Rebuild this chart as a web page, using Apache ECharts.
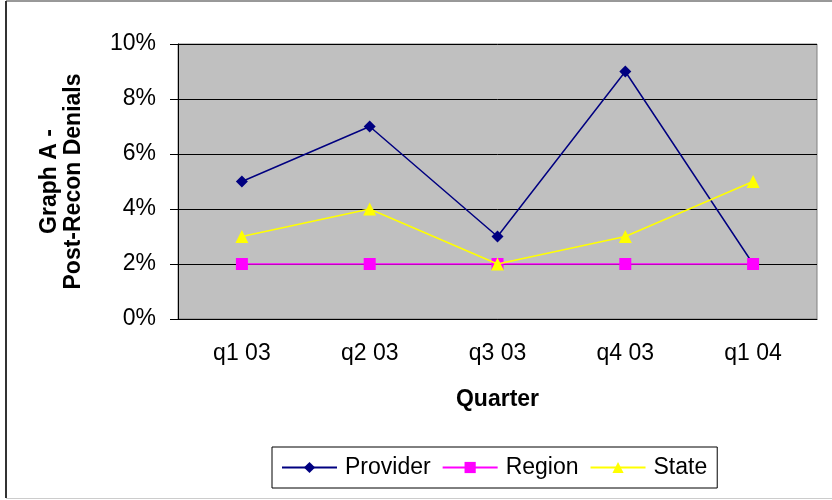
<!DOCTYPE html>
<html>
<head>
<meta charset="utf-8">
<script src="https://cdn.jsdelivr.net/npm/echarts@6/dist/echarts.min.js"></script>
<style>
    html, body { margin: 0; padding: 0; background: #fff; }
    #chart { width: 832px; height: 500px; }
</style>
</head>
<body>
<div id="chart"></div>
<script>
// quarters on the x axis
var quarters = ['q1 03', 'q2 03', 'q3 03', 'q4 03', 'q1 04'];
// denial rates in percent
var provider = [5, 7, 3, 9, 2];
var region = [2, 2, 2, 2, 2];
var state = [3, 4, 2, 3, 5];

var font = 'Arial, "Liberation Sans", sans-serif';

var myChart = echarts.init(document.getElementById('chart'));
var option = {
    animation: false,
    textStyle: { fontFamily: font },
    graphic: [
        { type: 'line', shape: { x1: 6, y1: 1, x2: 6, y2: 498 }, style: { stroke: '#333', lineWidth: 2 } },
        { type: 'line', shape: { x1: 6, y1: 1, x2: 832, y2: 1 }, style: { stroke: '#333', lineWidth: 1 } },
        { type: 'line', shape: { x1: 6, y1: 498.5, x2: 832, y2: 498.5 }, style: { stroke: '#ccc', lineWidth: 1 } }
    ],
    grid: {
        left: 178, top: 44, right: 15, bottom: 181,
        show: true,
        backgroundColor: '#c0c0c0',
        borderColor: '#808080',
        borderWidth: 1
    },
    legend: {
        left: 272,
        top: 447,
        padding: [9, 10, 9, 9],
        itemGap: 11,
        itemWidth: 55,
        itemHeight: 14,
        backgroundColor: '#fff',
        borderColor: '#000',
        borderWidth: 1,
        textStyle: { fontSize: 23, color: '#000', fontFamily: font, padding: [0, 0, 0, 3] },
        data: ['Provider', 'Region', 'State']
    },
    xAxis: {
        type: 'category',
        data: quarters,
        boundaryGap: true,
        name: 'Quarter',
        nameLocation: 'middle',
        nameGap: 69,
        nameTextStyle: { fontSize: 23, fontWeight: 'bold', color: '#000' },
        axisLine: { lineStyle: { color: '#000' } },
        axisTick: { length: 7, lineStyle: { color: '#000' } },
        axisLabel: { fontSize: 23, color: '#000', margin: 23 },
        splitLine: { show: false }
    },
    yAxis: {
        type: 'value',
        min: 0,
        max: 10,
        interval: 2,
        name: 'Graph A -\nPost-Recon Denials',
        nameLocation: 'middle',
        nameRotate: 90,
        nameGap: 92,
        nameTextStyle: { fontSize: 23, fontWeight: 'bold', color: '#000', lineHeight: 24 },
        axisLine: { show: true, lineStyle: { color: '#000' } },
        axisTick: { show: true, length: 8, lineStyle: { color: '#000' } },
        axisLabel: { fontSize: 23, color: '#000', margin: 22, formatter: '{value}%' },
        splitLine: { lineStyle: { color: '#000', width: 1 } }
    },
    series: [
        {
            name: 'Provider', type: 'line', data: provider,
            symbol: 'diamond', symbolSize: 12,
            lineStyle: { color: '#000080', width: 1.5 },
            itemStyle: { color: '#000080' },
            z: 3
        },
        {
            name: 'Region', type: 'line', data: region,
            symbol: 'rect', symbolSize: 12,
            lineStyle: { color: '#ff00ff', width: 1.5 },
            itemStyle: { color: '#ff00ff' },
            z: 4
        },
        {
            name: 'State', type: 'line', data: state,
            symbol: 'triangle', symbolSize: 13,
            lineStyle: { color: '#ffff00', width: 1.5 },
            itemStyle: { color: '#ffff00' },
            z: 5
        }
    ]
};
myChart.setOption(option);
window.addEventListener('resize', myChart.resize);
</script>
</body>
</html>
